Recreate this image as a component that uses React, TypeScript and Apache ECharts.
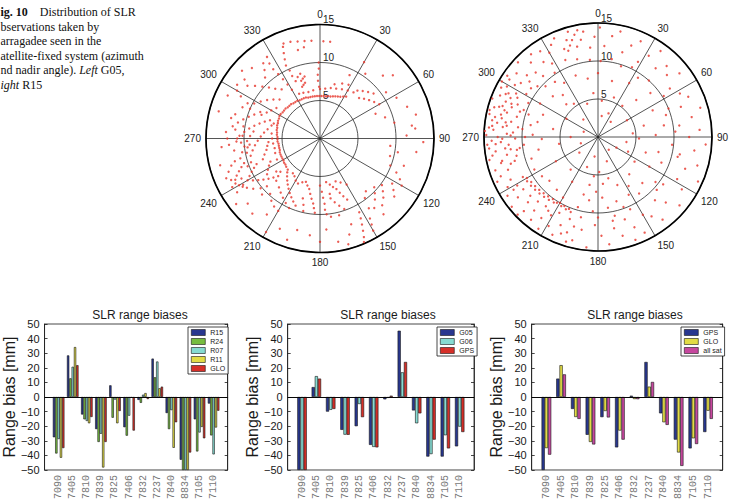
import React, { useEffect, useRef } from 'react';
import * as echarts from 'echarts';

// ---- bar chart data: SLR range biases per station [mm] ----
const stations = ['7090', '7405', '7810', '7839', '7825', '7406', '7832', '7237', '7840', '8834', '7105', '7110'];

const biasR15 = [-27.6, 28.5, -12.0, -22.0, 8.0, -20.7, -2.0, 26.3, -11.0, -43.0, -15.3, -4.5];
const biasR24 = [-38.7, 12.8, -15.3, -30.8, -14.2, -26.5, -4.0, 13.5, -22.0, -50.0, -37.3, -26.3];
const biasR07 = [-28.8, 20.7, -16.4, -25.2, -1.8, -12.8, 1.6, 24.3, -9.0, -50.0, -24.3, -39.3];
const biasR11 = [-41.6, 34.2, -18.0, -48.3, -18.0, -0.5, 2.7, 6.0, -34.8, -50.0, -20.5, -20.9];
const biasGLO = [-35.0, 21.8, -13.7, -30.8, -9.6, -23.0, -1.4, 7.1, -17.3, -38.0, -28.3, -9.4];

const biasG05 = [-50.0, 6.8, -10.0, -22.5, -20.0, -32.8, -1.6, 45.4, -9.2, -40.8, -40.8, -33.8];
const biasG06 = [-50.0, 14.3, -8.8, -25.8, -4.8, -34.2, -0.6, 16.9, -18.0, -39.1, -26.2, -20.3];
const biasGPS = [-50.0, 12.6, -8.2, -25.9, -13.8, -34.5, 0.9, 24.0, -11.2, -29.2, -35.2, -24.0];
const biasAll = [-39.5, 15.5, -15.0, -32.5, -14.0, -29.2, -1.5, 10.3, -19.1, -47.2, -32.2, -15.0];

const yTicks = [-50, -40, -30, -20, -10, 0, 10, 20, 30, 40, 50];

// ---- observation geometry: [azimuth deg, nadir angle deg] ----
const g05Obs: [number, number][] = [
  // inner edge of the visible cone
  [226, 5.9], [230, 5.8], [233, 5.7], [236, 5.7], [239, 5.6], [242, 5.6], [245, 5.6], [248, 5.6], [251, 5.6], [254, 5.5],
  [257, 5.5], [260, 5.5], [263, 5.5], [266, 5.6], [269, 5.6], [272, 5.6], [275, 5.7], [278, 5.7], [281, 5.8], [284, 5.8],
  [287, 5.9], [290, 5.9], [293, 6.0], [296, 6.0], [299, 6.1], [302, 6.1], [305, 6.0], [308, 6.0], [311, 6.0], [314, 5.9],
  [317, 5.9], [320, 5.9], [323, 5.8], [326, 5.8], [329, 5.8], [332, 5.7], [335, 5.7], [338, 5.7], [341, 5.7], [344, 5.6],
  [347, 5.6], [350, 5.6], [353, 5.6], [356, 5.6], [359, 5.6], [2, 5.6], [5, 5.6], [8, 5.6], [11, 5.7], [14, 5.7],
  [17, 5.8], [20, 5.9], [23, 6.0], [26, 6.1], [29, 6.3], [32, 6.5],
  [244, 6.3], [252, 6.2], [258, 6.1], [264, 6.2], [270, 6.3], [276, 6.4],
  [335, 6.5], [340, 6.4], [346, 6.3], [352, 6.4], [0, 6.5], [6, 6.6], [12, 6.8], [18, 6.9], [24, 7.1], [30, 7.3],
  [36, 7.5], [15, 7.4], [22, 7.8], [28, 8.0],
  // north-west passes
  [337, 8.2], [336, 9.0], [336, 9.8], [335, 10.6], [336, 11.4], [337, 12.2], [338, 13.0],
  [330, 7.4], [329, 8.3], [328, 9.2], [327, 10.1], [326, 11.0], [326, 11.9], [327, 12.8],
  [341, 7.2], [343, 7.4], [345, 7.6], [342, 8.0], [344, 8.2], [346, 8.4], [340, 8.6], [343, 8.9],
  [359, 6.8], [358, 7.6], [358, 8.4], [359, 9.2], [359, 10.0],
  [339, 13.4], [343, 13.3], [347, 13.1], [351, 13.0], [355, 12.9], [2, 12.8], [6, 12.8], [350, 12.2], [346, 12.0],
  [322, 8.2], [318, 8.8], [315, 9.5], [312, 10.2], [309, 11.0], [306, 11.8], [318, 10.8], [321, 11.6], [323, 12.4],
  [314, 7.4], [310, 8.0], [306, 8.6], [302, 9.2], [298, 9.8], [296, 10.6], [305, 7.0], [300, 7.4], [296, 7.8],
  [292, 8.3], [308, 12.6], [303, 13.0], [316, 12.9], [311, 13.6],
  // western passes
  [290, 7.0], [287, 7.6], [284, 8.2], [281, 8.8], [278, 9.4], [275, 10.0], [272, 10.6], [268, 11.0], [290, 9.2],
  [287, 9.8], [284, 10.4], [281, 11.0], [278, 11.6], [294, 8.6], [293, 10.0], [292, 11.0], [280, 7.0], [276, 7.4],
  [272, 7.8], [268, 8.2], [264, 8.6], [260, 9.0], [256, 9.4], [276, 8.8], [272, 9.2], [268, 9.6], [264, 10.0],
  [260, 10.4], [256, 10.8], [262, 11.4], [266, 12.0], [270, 12.2], [274, 12.4], [258, 7.2], [254, 7.6], [250, 8.0],
  [262, 7.0], [266, 6.8], [285, 6.6], [288, 6.4], [272, 10.2], [265, 9.3], [283, 12.0], [276, 11.2], [270, 10.9],
  [267, 10.4], [263, 9.6], [259, 9.8], [279, 10.2], [286, 11.6], [298, 11.8],
  // south-western passes
  [252, 10.5], [250, 11.0], [248, 11.5], [246, 12.0], [244, 12.4], [242, 12.6], [240, 12.3], [238, 12.0], [236, 11.6],
  [248, 9.0], [246, 9.5], [244, 10.0], [242, 10.5], [240, 11.0], [238, 10.4], [236, 9.8], [234, 9.2], [232, 8.6],
  [230, 8.0], [245, 7.2], [242, 7.6], [239, 8.0], [236, 8.4], [233, 7.2], [230, 6.8], [228, 7.4], [226, 8.0],
  [250, 12.8], [253, 12.2], [255, 11.6], [241, 13.2], [237, 13.0], [247, 13.4], [233, 11.0], [230, 10.2],
  [228, 9.4], [226, 10.6], [243, 11.6], [239, 11.8], [245, 12.9], [251, 9.6], [249, 10.2],
  // southern passes
  [224, 6.2], [221, 6.6], [218, 7.0], [215, 7.4], [212, 7.8], [209, 8.2], [206, 8.6], [203, 9.0], [200, 9.4],
  [220, 8.4], [216, 8.8], [212, 9.2], [208, 9.6], [204, 10.0], [222, 9.8], [218, 10.4], [214, 10.8], [210, 11.0],
  [198, 6.0], [195, 6.4], [192, 6.8], [190, 7.4], [188, 8.0], [186, 8.6], [185, 9.2], [184, 9.8], [202, 6.2],
  [206, 6.6], [210, 6.4], [196, 8.2], [194, 9.0], [193, 9.8], [180, 6.2], [178, 7.0], [177, 7.8], [176, 8.6],
  [176, 9.4], [214, 6.0], [218, 5.8],
  [172, 5.8], [168, 6.2], [165, 6.6], [162, 7.0], [160, 7.6], [158, 8.2], [156, 8.8], [170, 8.0], [167, 8.6],
  [164, 9.2], [161, 9.8], [175, 10.0], [172, 10.4], [160, 6.0], [155, 6.4], [150, 7.0], [166, 10.4], [170, 7.4],
  // south-eastern passes
  [152, 11.0], [153, 11.8], [154, 12.6], [155, 13.4], [156, 14.2], [157, 14.8], [148, 12.4], [149, 13.2],
  [150, 14.0], [145, 11.2], [142, 11.6], [138, 10.8], [135, 10.2], [132, 9.6], [137, 12.0], [133, 11.4],
  [130, 10.8], [127, 10.2], [140, 13.0], [128, 12.4], [125, 11.8], [122, 11.2], [143, 9.8], [139, 9.2],
  [160, 12.0], [163, 13.2], [165, 14.4], [170, 13.8],
  // eastern sky
  [38, 8.0], [42, 8.4], [46, 8.8], [50, 9.2], [44, 7.4], [48, 7.8], [52, 8.2], [56, 8.6], [60, 9.0], [45, 11.7],
  [49, 12.7], [55, 10.6], [62, 11.4], [70, 12.2], [76, 13.0], [82, 12.2], [84, 12.6], [88, 11.4], [96, 9.3],
  [100, 10.4], [104, 9.5], [108, 11.6], [111, 9.9], [114, 11.0], [117, 11.8], [120, 12.4], [98, 12.8],
  [92, 13.6], [66, 8.0], [72, 9.0], [78, 10.0], [35, 10.4], [30, 11.6], [25, 9.2],
  // outer ring
  [204, 13.0], [194, 12.4], [186, 12.8], [222, 13.3], [215, 12.2], [228, 12.8], [198, 14.0], [210, 14.2],
  [232, 14.0], [180, 13.6], [176, 12.0], [265, 13.0], [255, 13.6], [300, 12.6], [295, 13.4], [285, 13.8],
];

const r15Obs: [number, number][] = [
  // western sky, outer band
  [248, 13.8], [250, 12.6], [252, 14.2], [254, 11.4], [256, 13.0], [258, 14.6], [259, 12.2], [261, 10.8], [262, 13.6],
  [264, 14.4], [265, 11.8], [267, 12.8], [268, 14.0], [269, 10.9], [270, 13.2], [271, 14.7], [272, 12.0], [273, 11.2],
  [274, 13.8], [275, 14.4], [276, 12.6], [277, 10.6], [278, 13.4], [279, 14.1], [280, 11.6], [281, 12.9], [282, 14.6],
  [283, 13.1], [284, 11.0], [285, 12.4], [286, 14.2], [287, 13.6], [288, 10.8], [289, 12.0], [290, 14.8], [291, 13.0],
  [292, 11.4], [293, 14.0], [294, 12.6], [295, 13.4], [296, 11.8], [297, 14.3], [298, 12.2], [299, 13.7], [300, 14.6],
  [301, 11.0], [302, 12.9], [303, 13.9], [304, 14.4], [305, 12.4], [263, 12.3], [266, 13.5], [271, 11.5], [276, 14.0],
  [281, 13.8], [286, 12.8], [257, 11.0], [253, 12.0], [260, 14.1], [279, 12.3], [266, 14.6], [273, 14.9], [284, 14.7],
  [291, 12.2], [296, 13.1], [269, 12.6], [262, 11.6], [288, 13.2], [277, 12.1], [255, 13.2],
  [252, 9.2], [258, 8.0], [264, 9.8], [268, 7.4], [272, 8.6], [276, 10.0], [280, 9.0], [284, 8.2], [288, 9.6],
  [292, 7.8], [296, 10.2], [300, 8.8], [262, 10.4], [290, 10.4], [270, 9.6],
  // south-western band
  [242, 11.2], [240, 10.8], [238, 11.0], [236, 10.6], [234, 10.9], [232, 10.5], [230, 10.8], [228, 10.4], [226, 10.7],
  [224, 10.3], [222, 10.6], [220, 10.2], [218, 10.5], [216, 10.1], [214, 10.4], [212, 10.2], [210, 10.0], [208, 10.3],
  [206, 10.1], [204, 10.4], [202, 10.2], [200, 10.5], [244, 12.8], [241, 13.6], [239, 12.4], [237, 14.2], [235, 12.0],
  [233, 13.2], [231, 14.6], [229, 11.8], [227, 12.6], [225, 13.8], [223, 11.6], [221, 12.8], [219, 14.0], [217, 11.4],
  [215, 13.0], [213, 14.4], [211, 12.0], [209, 13.4], [207, 11.2], [205, 14.2], [203, 12.6], [201, 13.6], [199, 11.4],
  [197, 14.4], [195, 12.2], [243, 9.4], [235, 9.0], [228, 8.6], [218, 8.8], [210, 9.2], [246, 14.5], [238, 13.1],
  [226, 14.7], [214, 11.7],
  // southern sky
  [198, 13.2], [194, 14.0], [190, 12.4], [186, 14.6], [182, 11.6], [178, 13.0], [174, 14.2], [170, 12.2], [166, 13.4],
  [162, 11.4], [158, 12.8], [154, 14.0], [150, 11.8], [196, 9.6], [192, 10.8], [188, 8.4], [184, 9.8], [180, 10.6],
  [176, 8.0], [172, 9.4], [168, 10.6], [164, 8.8], [160, 9.8], [156, 10.4], [152, 8.6], [190, 6.4], [182, 7.2],
  [174, 6.2], [166, 5.6], [158, 6.8], [186, 5.2], [178, 4.6], [194, 7.8], [170, 11.2], [160, 14.4],
  // eastern sky
  [146, 12.6], [142, 13.8], [138, 11.2], [134, 12.4], [130, 14.0], [126, 10.6], [122, 13.0], [118, 11.8], [114, 14.4],
  [110, 12.2], [106, 13.6], [102, 11.0], [98, 12.8], [94, 14.2], [90, 12.0], [86, 13.4], [82, 10.8], [78, 12.6],
  [74, 14.0], [70, 11.6], [66, 13.0], [62, 12.2], [144, 9.2], [136, 8.4], [128, 9.6], [120, 7.8], [112, 9.0],
  [104, 8.2], [96, 9.8], [88, 7.6], [80, 8.8], [72, 9.4], [64, 8.0], [140, 6.4], [124, 5.8], [108, 6.6], [92, 5.4],
  [76, 6.2], [116, 4.4], [100, 3.8], [84, 4.6], [132, 10.4], [86, 10.2], [104, 10.8], [68, 10.0], [148, 7.6],
  // northern sky
  [330, 12.8], [333, 13.6], [336, 14.2], [339, 12.4], [342, 13.4], [344, 14.4], [347, 12.2], [350, 13.0], [352, 14.0],
  [355, 11.8], [358, 13.2], [1, 14.4], [4, 12.0], [8, 13.4], [12, 14.2], [16, 11.6], [20, 12.8], [24, 13.8],
  [28, 11.2], [32, 12.6], [36, 14.0], [40, 11.8], [44, 13.0], [48, 12.2], [52, 13.6], [56, 11.4], [337, 11.0],
  [345, 10.6], [354, 10.2], [2, 10.0], [10, 10.4], [18, 9.8], [26, 10.2], [34, 9.4], [42, 10.0], [50, 9.0],
  [58, 10.2], [340, 8.6], [350, 7.8], [0, 8.4], [14, 7.6], [30, 8.2], [46, 7.0], [354, 5.8], [6, 4.8], [22, 5.6],
  [38, 5.2], [342, 4.6], [10, 2.8], [24, 3.4], [341, 12.0], [343, 12.6], [345, 13.2], [347, 13.8], [349, 14.3],
  // north-western sky
  [308, 13.6], [311, 12.4], [313, 14.4], [316, 11.8], [318, 13.2], [321, 14.0], [324, 12.2], [326, 13.6], [328, 11.4],
  [310, 10.4], [314, 9.6], [318, 10.8], [322, 9.2], [326, 10.2], [312, 8.0], [320, 7.2], [328, 8.4], [316, 6.0],
  [324, 5.4], [306, 10.9], [309, 11.6],
  // near the boresight
  [200, 4.2], [220, 5.6], [240, 6.4], [260, 5.2], [280, 6.0], [300, 4.8], [230, 3.2], [270, 3.6], [250, 2.4],
  [210, 6.8], [290, 2.0], [320, 3.0], [160, 3.4], [140, 2.2], [190, 2.6], [60, 4.4], [40, 2.6], [120, 2.8],
];

// caption block, as it appears at the page's left edge
const captionLines = [
  '{b|ig. 10}\u2003Distribution of SLR',
  'bservations taken by',
  'arragadee seen in the',
  'atellite-fixed system (azimuth',
  'nd nadir angle). {i|Left} G05,',
  '{i|ight} R15',
];

// ---- styling ----
const SANS = 'Liberation Sans, Arial, Helvetica, sans-serif';
const MONO = 'Liberation Mono, Courier New, monospace';
const SERIF = 'Liberation Serif, Times New Roman, serif';
const INK = '#1a1a1a';

const NAVY = '#28378f';
const GREEN = '#76bd40';
const CYAN = '#86dbd2';
const YELLOW = '#e2dc45';
const RED = '#d62f28';
const MAGENTA = '#c6479e';
const DOT = '#e6342a';

const panels = [
  {
    left: 39.3, width: 188.4, titleX: 135, legendX: 188, gap: '18%',
    series: [
      { name: 'R15', data: biasR15, color: NAVY },
      { name: 'R24', data: biasR24, color: GREEN },
      { name: 'R07', data: biasR07, color: CYAN },
      { name: 'R11', data: biasR11, color: YELLOW },
      { name: 'GLO', data: biasGLO, color: RED },
    ],
  },
  {
    left: 287.7, width: 186.3, titleX: 383, legendX: 437, gap: '34%',
    series: [
      { name: 'G05', data: biasG05, color: NAVY },
      { name: 'G06', data: biasG06, color: CYAN },
      { name: 'GPS', data: biasGPS, color: RED },
    ],
  },
  {
    left: 531.7, width: 191, titleX: 630, legendX: 681, gap: '34%',
    series: [
      { name: 'GPS', data: biasGPS, color: NAVY },
      { name: 'GLO', data: biasGLO, color: YELLOW },
      { name: 'all sat', data: biasAll, color: MAGENTA },
    ],
  },
];

const polars = [
  { center: [320, 138.5], obs: g05Obs },
  { center: [598, 137], obs: r15Obs },
];

const minusFmt = (v: number) => (v < 0 ? '\u2212' + Math.abs(v) : String(v));

function buildOption(): any {
  const gridTop = 324;
  const gridH = 148.3;

  const grid = panels.map((p) => ({
    left: p.left, top: gridTop, width: p.width, height: gridH,
    show: true, borderColor: INK, borderWidth: 0.8, backgroundColor: '#fff',
  }));

  const xAxis = panels.map((p, i) => ({
    type: 'category', gridIndex: i, data: ['', ...stations, ''], boundaryGap: false,
    axisLine: { show: true, lineStyle: { color: INK, width: 0.8 } },
    axisTick: { show: false },
    axisLabel: { interval: 0, rotate: 90, margin: 5, fontFamily: MONO, fontSize: 10, color: '#777' },
    splitLine: { show: false },
  }));

  const yAxis = panels.flatMap((p, i) => [
    {
      type: 'value', gridIndex: i, min: yTicks[0], max: yTicks[yTicks.length - 1], interval: 10, position: 'left',
      name: 'Range bias [mm]', nameLocation: 'middle', nameGap: 23,
      nameTextStyle: { fontFamily: SANS, fontSize: 16, color: INK },
      axisLine: { show: true, lineStyle: { color: INK, width: 0.8 } },
      axisTick: { show: true, inside: true, length: 3, lineStyle: { color: INK, width: 0.8 } },
      axisLabel: { fontFamily: SANS, fontSize: 11, color: INK, margin: 5, formatter: minusFmt },
      splitLine: { show: false },
    },
    {
      type: 'value', gridIndex: i, min: yTicks[0], max: yTicks[yTicks.length - 1], interval: 10, position: 'right',
      axisLine: { show: true, lineStyle: { color: INK, width: 0.8 } },
      axisTick: { show: true, inside: true, length: 3, lineStyle: { color: INK, width: 0.8 } },
      axisLabel: { show: false },
      splitLine: { show: false },
    },
  ]);

  const barSeries = panels.flatMap((p, i) =>
    p.series.map((s, k) => ({
      type: 'bar', name: s.name, xAxisIndex: i, yAxisIndex: 2 * i,
      data: [null, ...s.data, null],
      barGap: '0%', barCategoryGap: p.gap,
      itemStyle: { color: s.color, borderColor: '#151515', borderWidth: 0.6 },
      silent: true,
      markLine: k === 0 ? {
        silent: true, symbol: ['none', 'none'], label: { show: false },
        lineStyle: { color: '#000', width: 0.9, type: 'solid' },
        data: [{ yAxis: 0 }],
      } : undefined,
    }))
  );

  const legend = panels.map((p) => ({
    left: p.legendX, top: 327, orient: 'vertical', selectedMode: false,
    data: p.series.map((s) => ({ name: s.name, icon: 'rect', itemStyle: { color: s.color, borderColor: '#151515', borderWidth: 0.6 } })),
    itemWidth: 14, itemHeight: 6, itemGap: 2, padding: [2, 3, 2, 3],
    borderColor: INK, borderWidth: 0.8, backgroundColor: '#fff',
    textStyle: { fontFamily: SANS, fontSize: 7, color: INK },
  }));

  const title = panels.map((p) => ({
    text: 'SLR range biases', left: p.titleX, top: 304, textAlign: 'center',
    textStyle: { fontFamily: SANS, fontSize: 12, fontWeight: 'normal', color: INK },
  }));

  const polar = polars.map((pl) => ({ center: pl.center, radius: 114 }));

  const angleAxis = polars.map((_, i) => ({
    polarIndex: i, type: 'value', min: 0, max: 360, interval: 30, startAngle: 90, clockwise: true,
    axisLine: { show: true, lineStyle: { color: '#000', width: 1.7 } },
    axisTick: { show: false },
    axisLabel: {
      show: true, margin: 5, fontFamily: SANS, fontSize: 10, color: '#222',
      formatter: (v: number) => (v >= 360 ? '' : String(v)),
    },
    splitLine: { show: true, lineStyle: { color: '#2a2a2a', width: 0.8 } },
  }));

  const radiusAxis = polars.map((_, i) => ({
    polarIndex: i, type: 'value', min: 0, max: 15, interval: 5,
    axisLine: { show: false }, axisTick: { show: false },
    axisLabel: {
      show: true, margin: -3, align: 'left', verticalAlign: 'bottom',
      fontFamily: SANS, fontSize: 10, color: '#222',
      formatter: (v: number) => (v === 0 ? '' : String(v)),
    },
    splitLine: { show: true, lineStyle: { color: '#2a2a2a', width: 0.8 } },
  }));

  const scatterSeries = polars.map((pl, i) => ({
    type: 'scatter', coordinateSystem: 'polar', polarIndex: i,
    data: pl.obs.map(([az, nadir]) => [nadir, az]),
    symbol: 'circle', symbolSize: 2.4, silent: true,
    itemStyle: { color: DOT },
  }));

  const graphic = [
    {
      type: 'text', x: 0.5, y: 4.8, silent: true,
      style: {
        text: captionLines.join('\n'),
        fontFamily: SERIF, fontSize: 12, lineHeight: 14.6, fill: '#111',
        verticalAlign: 'top', align: 'left',
        rich: {
          b: { fontFamily: SERIF, fontSize: 12, fontWeight: 'bold', lineHeight: 14.6, fill: '#111' },
          i: { fontFamily: SERIF, fontSize: 12, fontStyle: 'italic', lineHeight: 14.6, fill: '#111' },
        },
      },
    },
  ];

  return {
    animation: false,
    backgroundColor: '#fff',
    title, legend, grid, xAxis, yAxis, polar, angleAxis, radiusAxis, graphic,
    series: [...scatterSeries, ...barSeries],
  };
}

export default function App() {
  const ref = useRef<HTMLDivElement>(null);
  useEffect(() => {
    if (!ref.current) return;
    const chart = echarts.init(ref.current, undefined, { renderer: 'svg' });
    chart.setOption(buildOption());
    return () => chart.dispose();
  }, []);
  return (
    <div
      ref={ref}
      style={{ position: 'fixed', left: 0, top: 0, width: 732, height: 502, background: '#fff' }}
    />
  );
}
